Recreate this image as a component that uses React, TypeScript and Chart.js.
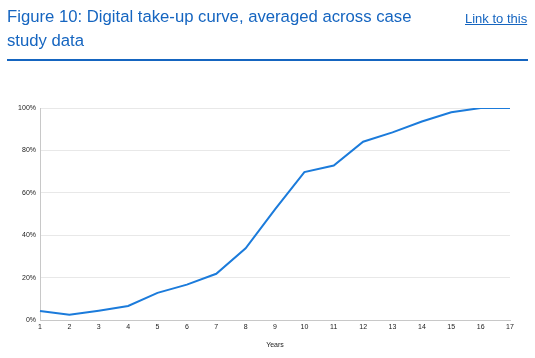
import React, { useEffect, useRef } from "react";
import { Chart, registerables } from "chart.js";

Chart.register(...registerables);

const years = ["1","2","3","4","5","6","7","8","9","10","11","12","13","14","15","16","17"];
const takeUp = [4.3, 2.5, 4.4, 6.6, 12.8, 16.7, 21.8, 33.8, 52.2, 69.8, 72.9, 84.1, 88.5, 93.6, 98.0, 100, 100];
const titleText = "Figure 10: Digital take-up curve, averaged across case study data";
const linkText = "Link to this";
const xTitle = "Years";

const BLUE = "#1565c0";
const FONT = "Liberation Sans, Arial, sans-serif";

export default function App() {
  const ref = useRef<HTMLCanvasElement | null>(null);
  useEffect(() => {
    if (!ref.current) return;
    const chart = new Chart(ref.current, {
      type: "line",
      data: {
        labels: years,
        datasets: [
          {
            data: takeUp,
            borderColor: "#1b7bdb",
            borderWidth: 2,
            pointRadius: 0,
            tension: 0,
            fill: false,
          },
        ],
      },
      options: {
        responsive: false,
        animation: false,
        layout: { padding: { left: 0, right: 25, top: 108, bottom: 0 } },
        plugins: { legend: { display: false }, tooltip: { enabled: false } },
        scales: {
          x: {
            offset: false,
            grid: { display: false, drawTicks: false },
            border: { display: true, color: "#c8c8c8", width: 1 },
            ticks: {
              color: "#222",
              font: { family: FONT, size: 7 },
              padding: 3,
              maxRotation: 0,
              autoSkip: false,
            },
            title: {
              display: true,
              text: xTitle,
              color: "#222",
              font: { family: FONT, size: 7 },
              padding: { top: 8, bottom: 9 },
            },
            afterFit: (s: any) => { s.height = 38; },
          },
          y: {
            min: 0,
            max: 100,
            grid: { color: "#e8e8e8", drawTicks: false, lineWidth: 1 },
            border: { display: true, color: "#c8c8c8", width: 1 },
            ticks: {
              stepSize: 20,
              color: "#222",
              padding: 4,
              font: { family: FONT, size: 7 },
              callback: (v: any) => v + "%",
            },
            afterFit: (s: any) => { s.width = 40; },
          },
        },
      },
    });
    return () => chart.destroy();
  }, []);

  return (
    <div style={{ position: "fixed", left: 0, top: 0, width: 535, height: 358, background: "#fff", fontFamily: "'Liberation Sans', Arial, sans-serif" }}>
      <canvas ref={ref} width={535} height={358} style={{ position: "absolute", left: 0, top: 0, width: 535, height: 358 }} />
      <div style={{ position: "absolute", left: 7, top: 5, width: 420, fontSize: 16.7, lineHeight: "24px", color: BLUE }}>
        {titleText}
      </div>
      <div style={{ position: "absolute", left: 465, top: 11, fontSize: 13, lineHeight: "16px", color: BLUE, textDecoration: "underline" }}>
        {linkText}
      </div>
      <div style={{ position: "absolute", left: 7, top: 59, width: 521, height: 2, background: BLUE }} />
    </div>
  );
}
